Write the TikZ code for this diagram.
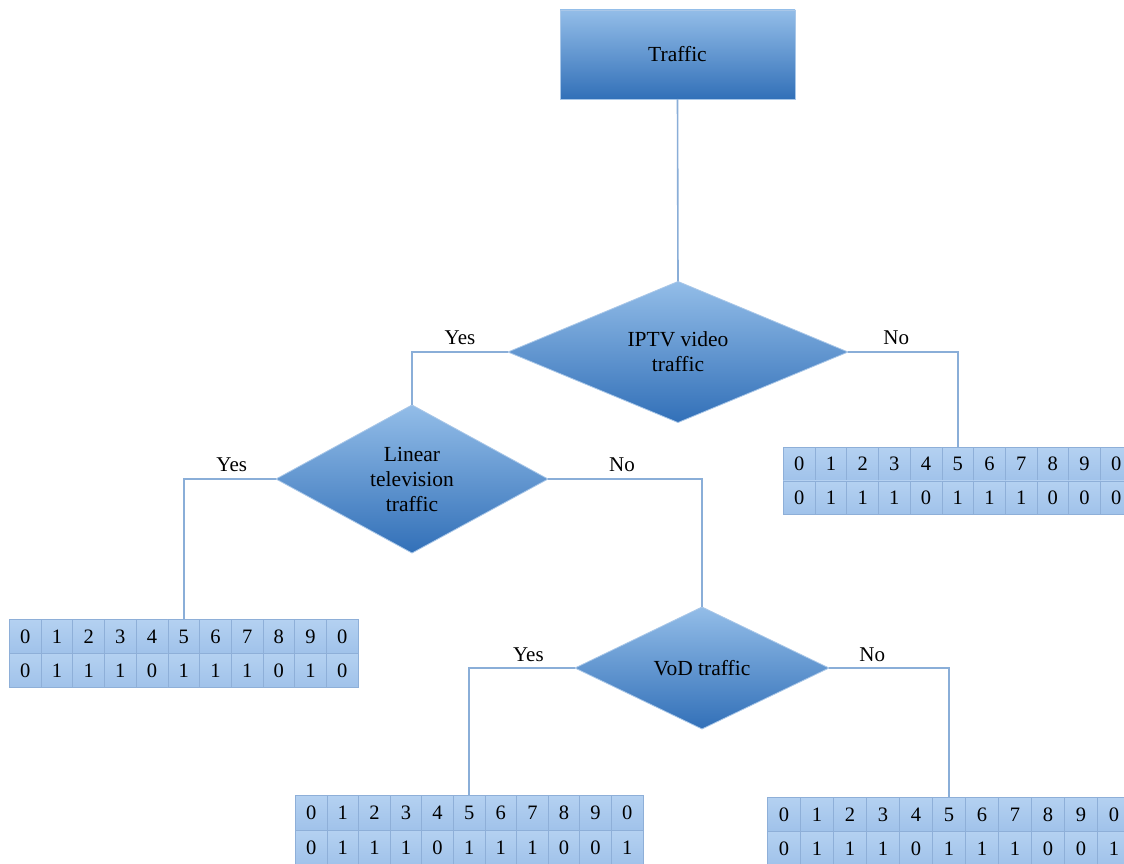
\documentclass[tikz,border=0pt]{standalone}
\usepackage{fontspec}
\setmainfont{Liberation Serif}
\usetikzlibrary{shapes.geometric}

\definecolor{boxtop}{HTML}{93BDE8}
\definecolor{boxbot}{HTML}{3270B8}
\definecolor{rim}{HTML}{A9C7E8}
\definecolor{wire}{HTML}{8AAED8}
\definecolor{celltop}{HTML}{B4D1F1}
\definecolor{cellbot}{HTML}{A0C2EA}
\definecolor{gridline}{HTML}{8EAFD8}

\tikzset{
  blockbox/.style={rectangle, draw=rim, line width=0.8pt, top color=boxtop,
    bottom color=boxbot, inner sep=0pt, outer sep=0pt,
    font=\fontsize{21.5}{25}\selectfont},
  decision/.style={diamond, draw=rim, line width=0.8pt, top color=boxtop,
    bottom color=boxbot, inner sep=0pt, outer sep=0pt, align=center,
    font=\fontsize{21.5}{25}\selectfont},
  wireline/.style={draw=wire, line width=1.6pt},
  answer/.style={above=5pt, inner sep=1pt, font=\fontsize{21}{24}\selectfont},
  bitcell/.style={rectangle, draw=gridline, line width=0.8pt, top color=celltop,
    bottom color=cellbot, inner sep=0pt, anchor=north west,
    font=\fontsize{20.5}{23}\selectfont},
}

% two-row strip of bit cells: name, left, top, cell width, row height, second row
\newcommand\bitstrip[6]{%
  \foreach \d [count=\k from 0] in {0,1,2,3,4,5,6,7,8,9,0}
    \node[bitcell, minimum width=#4pt, minimum height=#5pt] (#1-a\k) at ({#2+\k*#4},{#3}) {\d};
  \foreach \d [count=\k from 0] in {#6}
    \node[bitcell, minimum width=#4pt, minimum height=#5pt] (#1-b\k) at ({#2+\k*#4},{#3+#5}) {\d};
}

\begin{document}
\begin{tikzpicture}[x=1pt, y=-1pt]
  \useasboundingbox (0,0) rectangle (1124,864);
  \fill[white] (0,0) rectangle (1124,864);
  \clip (0,0) rectangle (1124,864);

  % decision tree
  \node[blockbox, minimum width=235pt, minimum height=89pt] (traffic) at (677.5,54.5) {Traffic};
  \node[decision, minimum width=340pt, minimum height=141pt] (iptv) at (678,352) {IPTV video\\traffic};
  \node[decision, minimum width=272pt, minimum height=140pt] (lin) at (412,479) {Linear\\television\\traffic};
  \node[decision, minimum width=254pt, minimum height=122pt] (vod) at (702,668) {VoD traffic};

  % outcome strips
  \bitstrip{tone}{783}{447}{31.7}{33.5}{0,1,1,1,0,1,1,1,0,0,0}
  \bitstrip{ttwo}{9}{619}{31.7}{34}{0,1,1,1,0,1,1,1,0,1,0}
  \bitstrip{tthree}{295}{795}{31.6}{35}{0,1,1,1,0,1,1,1,0,0,1}
  \bitstrip{tfour}{767}{797}{33}{34}{0,1,1,1,0,1,1,1,0,0,1}

  % connectors
  \draw[wireline] (traffic.south) -- (iptv.north);
  \draw[wireline] (iptv.west) -| node[answer, pos=0.25] (yesa) {Yes} (lin.north);
  \draw[wireline] (iptv.east) -| node[answer, pos=0.22] (noa) {No} (tone-a5.north);
  \draw[wireline] (lin.west) -| node[answer, pos=0.24] (yesb) {Yes} (ttwo-a5.north);
  \draw[wireline] (lin.east) -| node[answer, pos=0.24] (nob) {No} (vod.north);
  \draw[wireline] (vod.west) -| node[answer, pos=0.22] (yesc) {Yes} (tthree-a5.north);
  \draw[wireline] (vod.east) -| node[answer, pos=0.18] (noc) {No} (tfour-a5.north);
\end{tikzpicture}
\end{document}
